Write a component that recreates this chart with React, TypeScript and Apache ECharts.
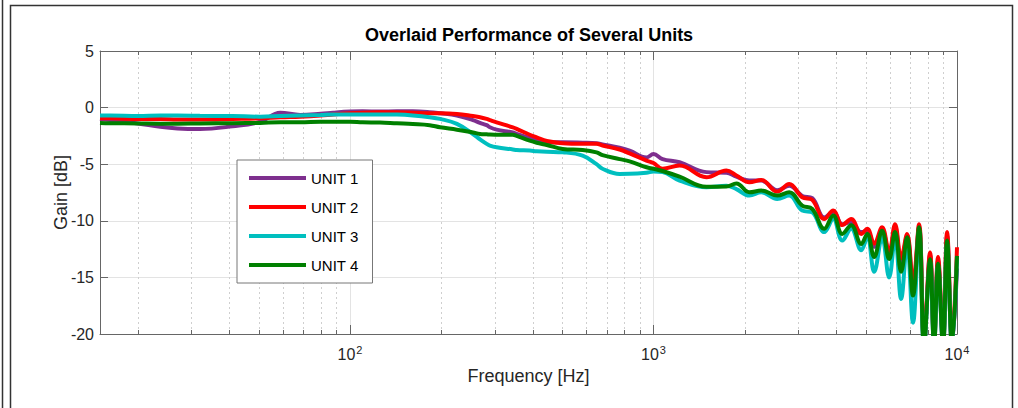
import React, { useEffect, useRef } from "react";
import * as echarts from "echarts";

const TITLE = "Overlaid Performance of Several Units";
const X_NAME = "Frequency [Hz]";
const Y_NAME = "Gain [dB]";
const SERIES_NAMES = ["UNIT 1", "UNIT 2", "UNIT 3", "UNIT 4"];
const COLORS = ["#7E2F8E", "#FF0000", "#00BFBF", "#008000"];

const FREQ = [
  15, 16.2, 20, 23.7, 27, 32, 41, 50.6, 58.9, 68.5, 80, 88, 100, 110, 125.5, 142.7, 161, 183, 198, 225,
  254, 268, 282, 289, 304, 344, 354, 391, 412, 445, 502, 584, 649, 679, 773, 834, 948, 1000, 1071, 1218,
  1494, 1738, 1875, 2069, 2265, 2556, 2800, 3090, 3334, 3652, 3910, 4188, 4480, 4835, 5060, 5335, 5665,
  5975, 6250, 6545, 6847, 7163, 7499, 7786, 8152, 8402, 8660, 8995, 9276, 9630, 10000,
];

const UNIT1 = [
  -1.0, -1.1, -1.4, -1.7, -1.85, -1.9, -1.65, -1.25, -0.45, -0.65, -0.55, -0.45, -0.35, -0.33, -0.35, -0.33,
  -0.33, -0.4, -0.5, -0.7, -1.1, -1.35, -1.55, -1.74, -1.95, -2.2, -2.33, -2.7, -2.85, -3.06, -3.06, -3.1,
  -3.15, -3.25, -3.55, -3.8, -4.4, -4.1, -4.55, -4.83, -5.7, -5.75, -6.1, -6.45, -6.45, -7.3, -6.9, -7.8,
  -8.0, -9.7, -9.2, -10.3, -10.1, -11.0, -10.9, -12.3, -10.8, -13.0, -10.6, -13.8, -11.3, -16.0, -10.5,
  -21, -13.0, -21, -13.5, -21, -11.3, -21, -14.2,
];

const UNIT2 = [
  -0.95, -0.95, -1.0, -1.0, -1.05, -1.05, -1.0, -0.95, -0.85, -0.8, -0.7, -0.6, -0.5, -0.45, -0.42, -0.41,
  -0.45, -0.5, -0.5, -0.56, -0.75, -0.85, -1.0, -1.1, -1.3, -1.75, -1.88, -2.4, -2.62, -2.95, -3.15, -3.2,
  -3.2, -3.35, -3.7, -4.05, -4.68, -4.9, -5.4, -5.12, -6.15, -5.56, -6.0, -6.6, -6.39, -7.42, -6.74, -7.92,
  -8.15, -9.84, -9.1, -10.37, -9.84, -11.16, -10.7, -12.0, -10.57, -12.8, -10.3, -13.3, -11.16, -15.5,
  -10.3, -20.5, -12.8, -20.5, -13.2, -20.5, -11.0, -20.5, -12.34,
];

const UNIT3 = [
  -0.7, -0.7, -0.75, -0.7, -0.7, -0.72, -0.75, -0.8, -0.75, -0.7, -0.65, -0.6, -0.6, -0.6, -0.6, -0.62,
  -0.7, -0.85, -1.0, -1.44, -2.33, -2.8, -3.2, -3.35, -3.5, -3.7, -3.75, -3.8, -3.85, -3.9, -3.95, -4.24,
  -5.0, -5.4, -5.86, -5.85, -5.75, -5.65, -5.7, -6.45, -7.04, -6.9, -7.2, -7.77, -7.48, -8.07, -7.77, -9.1,
  -9.25, -11.0, -9.84, -11.75, -10.7, -12.6, -11.45, -14.5, -11.45, -15.0, -11.45, -16.9, -11.9, -19.0,
  -10.87, -21, -13.6, -21, -14.0, -21, -12.0, -21, -13.3,
];

const UNIT4 = [
  -1.35, -1.38, -1.4, -1.42, -1.42, -1.4, -1.38, -1.35, -1.3, -1.3, -1.25, -1.25, -1.25, -1.3, -1.32, -1.39,
  -1.45, -1.55, -1.74, -1.95, -2.2, -2.33, -2.36, -2.38, -2.39, -2.4, -2.5, -2.92, -3.1, -3.3, -3.65, -3.74,
  -3.95, -4.2, -4.55, -4.75, -5.27, -5.4, -5.6, -6.1, -7.0, -6.98, -6.7, -7.48, -7.33, -7.77, -7.48, -8.66,
  -8.95, -10.7, -9.54, -11.16, -10.4, -12.05, -11.16, -13.2, -10.87, -13.37, -11.0, -14.5, -11.45, -16.6,
  -10.57, -21, -13.4, -21, -13.8, -21, -11.75, -21, -13.1,
];

const MINOR_TICKS = [
  20, 30, 40, 50, 60, 70, 80, 90, 200, 300, 400, 500, 600, 700, 800, 900,
  2000, 3000, 4000, 5000, 6000, 7000, 8000, 9000,
];

const X_MIN = 15;
const X_MAX = 10000;
const Y_MIN = -20;
const Y_MAX = 5;
const Y_STEP = 5;

const FONT = "'Liberation Sans', Arial, Helvetica, sans-serif";
const TEXT_COLOR = "#262626";
const AXIS_COLOR = "#666666";

export default function App() {
  const ref = useRef<HTMLDivElement>(null);

  useEffect(() => {
    if (!ref.current) return;
    const chart = echarts.init(ref.current, undefined, { renderer: "svg" });
    const values = [UNIT1, UNIT2, UNIT3, UNIT4];

    const lineSeries = SERIES_NAMES.map((name, k) => ({
      name,
      type: "line",
      xAxisIndex: 0,
      yAxisIndex: 0,
      data: FREQ.map((f, i) => [f, values[k][i]]),
      showSymbol: false,
      symbol: "none",
      smooth: 0.4,
      clip: true,
      z: 3,
      lineStyle: { color: COLORS[k], width: 4 },
      itemStyle: { color: COLORS[k] },
    }));

    const crisp = (v: number) => Math.round(v) + 0.5;

    const minorSeries = {
      type: "custom",
      xAxisIndex: 0,
      yAxisIndex: 0,
      silent: true,
      z: 1,
      data: MINOR_TICKS.map((f) => [f, 0]),
      renderItem: (_params: any, api: any) => {
        const f = api.value(0);
        const top = api.coord([f, Y_MAX]);
        const bot = api.coord([f, Y_MIN]);
        const x = crisp(top[0]);
        return {
          type: "group",
          children: [
            {
              type: "line",
              shape: { x1: x, y1: bot[1], x2: x, y2: top[1] },
              style: { stroke: "#cfcfcf", lineWidth: 1, lineDash: [2, 3] },
            },
            {
              type: "line",
              shape: { x1: x, y1: bot[1], x2: x, y2: bot[1] - 4 },
              style: { stroke: AXIS_COLOR, lineWidth: 1 },
            },
            {
              type: "line",
              shape: { x1: x, y1: top[1], x2: x, y2: top[1] + 4 },
              style: { stroke: AXIS_COLOR, lineWidth: 1 },
            },
          ],
        };
      },
    };

    const xLabelFmt = (v: number) => {
      const e = Math.round(Math.log10(v));
      return "{b|10}{s|" + e + "}";
    };

    chart.setOption({
      animation: false,
      backgroundColor: "#ffffff",
      title: {
        text: TITLE,
        left: 365,
        top: 26,
        padding: 0,
        textStyle: { fontFamily: FONT, fontSize: 18, fontWeight: "bold", color: "#000000" },
      },
      legend: {
        data: SERIES_NAMES,
        orient: "vertical",
        left: 237,
        top: 160,
        padding: [10, 14, 10, 12],
        itemWidth: 57,
        itemHeight: 4,
        itemGap: 13,
        icon: "rect",
        backgroundColor: "#ffffff",
        borderColor: "#777777",
        borderWidth: 1,
        borderRadius: 0,
        textStyle: { fontFamily: FONT, fontSize: 15, color: "#000000", lineHeight: 16 },
      },
      graphic: [
        {
          type: "rect",
          silent: true,
          shape: { x: 10.5, y: 5.5, width: 1002, height: 420 },
          style: { fill: "none", stroke: "#333333", lineWidth: 1.5 },
        },
        {
          type: "line",
          silent: true,
          shape: { x1: 2.5, y1: 0, x2: 2.5, y2: 408 },
          style: { stroke: "#333333", lineWidth: 1.5 },
        },
      ],
      grid: { left: 100, top: 51, right: 61, bottom: 74, containLabel: false },
      xAxis: [
        {
          type: "log",
          logBase: 10,
          min: X_MIN,
          max: X_MAX,
          position: "bottom",
          name: X_NAME,
          nameLocation: "middle",
          nameGap: 31,
          nameTextStyle: { fontFamily: FONT, fontSize: 18, color: TEXT_COLOR },
          axisLine: { show: true, onZero: false, lineStyle: { color: AXIS_COLOR, width: 1 } },
          axisTick: { show: true, inside: true, length: 9, lineStyle: { color: AXIS_COLOR } },
          axisLabel: {
            showMinLabel: false,
            showMaxLabel: true,
            margin: 10,
            formatter: xLabelFmt,
            rich: {
              b: { fontFamily: FONT, fontSize: 16, color: TEXT_COLOR, lineHeight: 18, verticalAlign: "bottom" },
              s: { fontFamily: FONT, fontSize: 11, color: TEXT_COLOR, lineHeight: 11, verticalAlign: "top", padding: [0, 0, 0, 1] },
            },
          },
          splitLine: { show: true, lineStyle: { color: "#e3e3e3", width: 1 } },
        },
        {
          type: "log",
          logBase: 10,
          min: X_MIN,
          max: X_MAX,
          position: "top",
          axisLine: { show: true, onZero: false, lineStyle: { color: AXIS_COLOR, width: 1 } },
          axisTick: { show: true, inside: true, length: 9, lineStyle: { color: AXIS_COLOR } },
          axisLabel: { show: false },
          splitLine: { show: false },
        },
      ],
      yAxis: [
        {
          type: "value",
          min: Y_MIN,
          max: Y_MAX,
          interval: Y_STEP,
          position: "left",
          name: Y_NAME,
          nameLocation: "middle",
          nameGap: 30,
          nameMoveOverlap: false,
          nameTextStyle: { fontFamily: FONT, fontSize: 18, color: TEXT_COLOR },
          axisLine: { show: true, onZero: false, lineStyle: { color: AXIS_COLOR, width: 1 } },
          axisTick: { show: true, inside: true, length: 8, lineStyle: { color: AXIS_COLOR } },
          axisLabel: { fontFamily: FONT, fontSize: 16, color: TEXT_COLOR, margin: 6 },
          splitLine: { show: true, lineStyle: { color: "#e3e3e3", width: 1 } },
        },
        {
          type: "value",
          min: Y_MIN,
          max: Y_MAX,
          interval: Y_STEP,
          position: "right",
          axisLine: { show: true, onZero: false, lineStyle: { color: AXIS_COLOR, width: 1 } },
          axisTick: { show: true, inside: true, length: 8, lineStyle: { color: AXIS_COLOR } },
          axisLabel: { show: false },
          splitLine: { show: false },
        },
      ],
      series: [minorSeries, ...lineSeries],
    });

    return () => chart.dispose();
  }, []);

  return (
    <div
      ref={ref}
      style={{ position: "fixed", left: 0, top: 0, width: 1018, height: 408, background: "#fff" }}
    />
  );
}
